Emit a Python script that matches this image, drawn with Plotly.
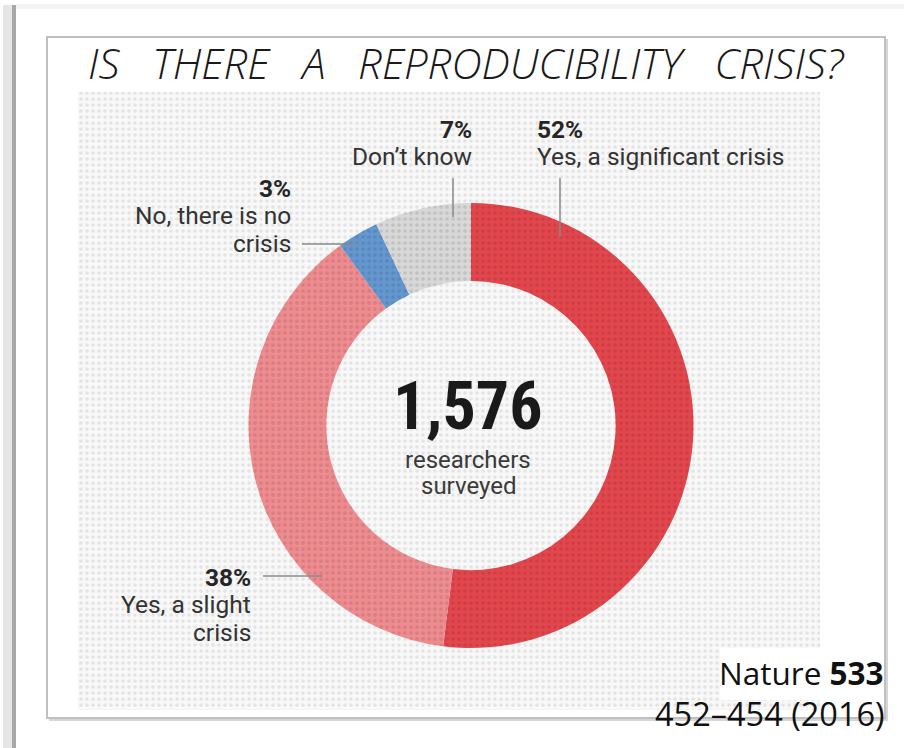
import plotly.graph_objects as go

# ---- data ----
categories = ["Yes, a significant crisis", "Yes, a slight crisis", "No, there is no crisis", "Don't know"]
values = [52, 38, 3, 7]
slice_colors = ["#e3474d", "#ee8c90", "#6497cf", "#d8d8d8"]
total_surveyed = "1,576"
title_words = ["IS", "THERE", "A", "REPRODUCIBILITY", "CRISIS?"]

W, H = 904, 748
FONT = "Roboto, Liberation Sans, sans-serif"
TXT = "#333333"

fig = go.Figure()

# dotted background panel (decoration)
fig.add_trace(go.Scatter(
    x=[78, 820, 820, 78, 78], y=[92, 92, 710, 710, 92],
    mode="lines", line=dict(width=0), fill="toself",
    fillcolor="#f7f7f7",
    fillpattern=dict(shape=".", size=6, solidity=0.3, fgcolor="#d0d0d0", bgcolor="#f8f8f8"),
    hoverinfo="skip", showlegend=False))

fig.add_trace(go.Pie(
    labels=categories, values=values, sort=False, direction="clockwise", rotation=0,
    hole=0.65, textinfo="none", hoverinfo="label+percent",
    marker=dict(colors=slice_colors, line=dict(width=0),
                pattern=dict(shape=".", size=6, solidity=0.3, fgcolor="#000000",
                             fgopacity=0.10, fillmode="overlay")),
    domain=dict(x=[248.5 / W, 693.5 / W], y=[1 - 648 / H, 1 - 203 / H]),
    showlegend=False))

shapes = []
# outer window decoration
shapes.append(dict(type="rect", x0=3, x1=12, y0=5, y1=H, fillcolor="#e6e6e6", line=dict(width=0), layer="below"))
shapes.append(dict(type="rect", x0=12, x1=16, y0=5, y1=H, fillcolor="#a8a8a8", line=dict(width=0), layer="below"))
shapes.append(dict(type="rect", x0=16, x1=W, y0=4, y1=9, fillcolor="#f3f3f3", line=dict(width=0), layer="below"))
# frame shadow and frame
shapes.append(dict(type="rect", x0=49, x1=888, y0=39, y1=721, fillcolor="#d6d6d6", line=dict(width=0), layer="below"))
shapes.append(dict(type="rect", x0=47, x1=885, y0=37, y1=718, fillcolor="#ffffff",
                   line=dict(color="#c0c0c0", width=2), layer="below"))
# white patch behind the citation inside the panel
shapes.append(dict(type="rect", x0=720, x1=821, y0=648, y1=700, fillcolor="#ffffff",
                   line=dict(width=0), layer="above"))
# leader lines
lc = dict(color="#8a8a8a", width=1.5)
shapes.append(dict(type="line", x0=453, x1=453, y0=178, y1=217, line=lc, layer="above"))
shapes.append(dict(type="line", x0=560, x1=560, y0=178, y1=237, line=lc, layer="above"))
shapes.append(dict(type="line", x0=302, x1=359, y0=244, y1=244, line=lc, layer="above"))
shapes.append(dict(type="line", x0=263, x1=322, y0=576, y1=576, line=lc, layer="above"))

ann = []
def txt(x, y, s, size=24.5, xanchor="center", color=TXT, family=FONT, **kw):
    ann.append(dict(x=x, y=y, xref="x", yref="y", text=s, showarrow=False,
                    xanchor=xanchor, yanchor="middle",
                    font=dict(size=size, color=color, family=family), **kw))

# title (wide word spacing)
gap = "\u00a0\u00a0\u00a0"
txt(466, 62, gap.join(title_words), size=42, color="#1a1a1a", family="Open Sans, sans-serif")
ann[-1]["font"]["style"] = "italic"
ann[-1]["font"]["weight"] = 350

# slice labels (value bold, text regular)
pct = [f"<b>{v}%</b>" for v in values]
txt(474, 129, pct[3], xanchor="right", color="#262626")
txt(474, 156, "Don\u2019t know", xanchor="right")
txt(535, 129, pct[0], xanchor="left", color="#262626")
txt(535, 156, "Yes, a significant crisis", xanchor="left")
txt(293, 188, pct[2], xanchor="right", color="#262626")
txt(293, 215, "No, there is no", xanchor="right")
txt(293, 243, "crisis", xanchor="right")
txt(253, 577, pct[1], xanchor="right", color="#262626")
txt(253, 604, "Yes, a slight", xanchor="right")
txt(253, 632, "crisis", xanchor="right")

# centre
txt(468, 406, f"<b>{total_surveyed}</b>", size=66, color="#1a1a1a",
    family="Roboto Condensed, Liberation Sans Narrow, DejaVu Sans Condensed, Roboto, sans-serif")
txt(468, 460, "researchers", size=24, color="#3a3a3a")
txt(468, 486, "surveyed", size=24, color="#3a3a3a")

# citation
txt(886, 672, "Nature <b>533</b>", size=31.5, xanchor="right", color="#111111",
    family="Open Sans, sans-serif")
txt(887, 713, "452\u2013454 (2016)", size=32.5, xanchor="right", color="#111111",
    family="Open Sans, sans-serif")

fig.update_layout(
    width=W, height=H, margin=dict(l=0, r=0, t=0, b=0),
    paper_bgcolor="#ffffff", plot_bgcolor="#ffffff",
    xaxis=dict(range=[0, W], visible=False, fixedrange=True),
    yaxis=dict(range=[H, 0], visible=False, fixedrange=True),
    shapes=shapes, annotations=ann, showlegend=False)

fig.write_html("out.html")
